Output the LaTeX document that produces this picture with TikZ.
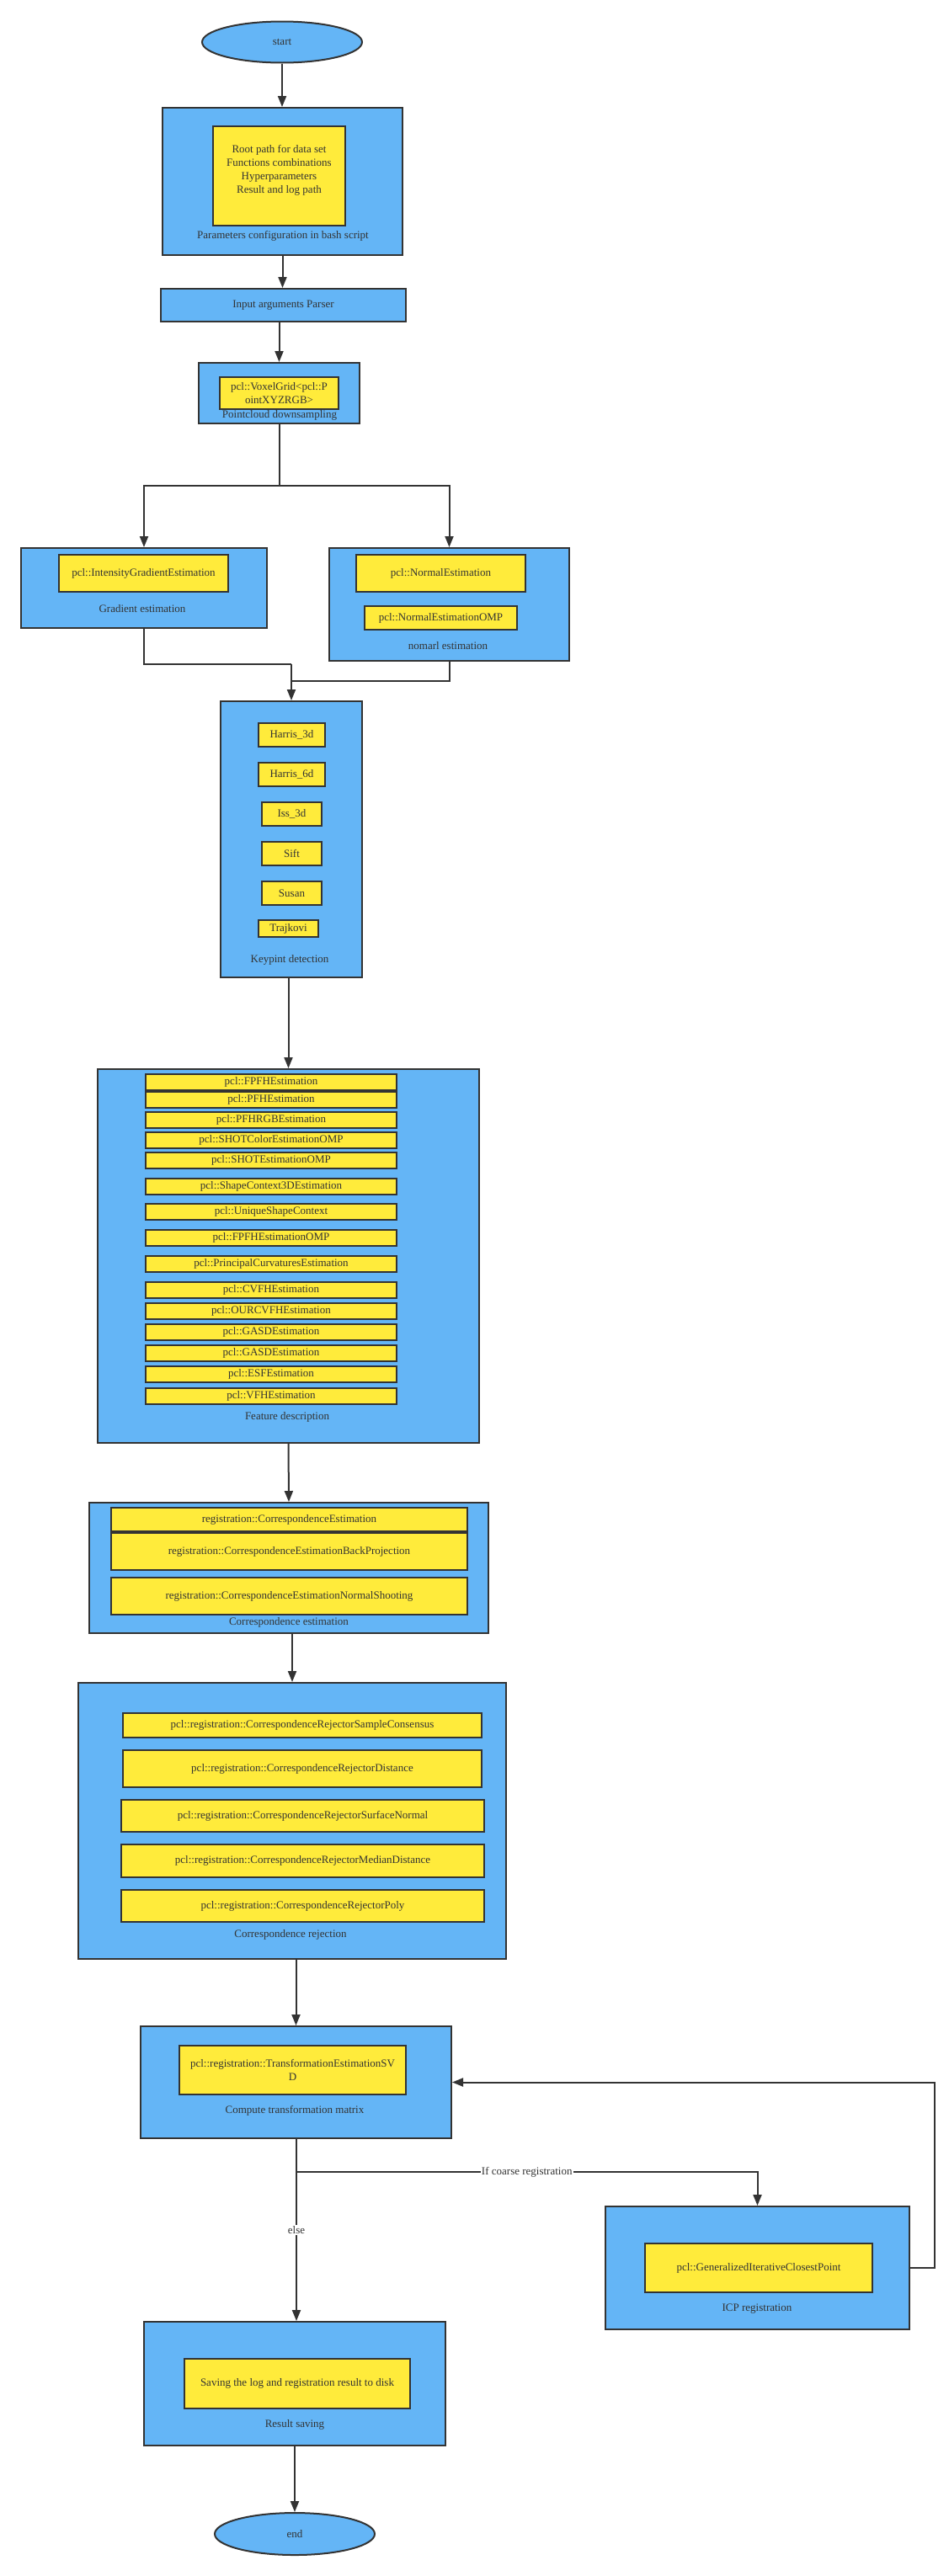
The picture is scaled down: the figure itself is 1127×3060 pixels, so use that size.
\documentclass[tikz,border=0pt]{standalone}
\usepackage{fontspec}
\setmainfont{Liberation Serif}
\usetikzlibrary{arrows.meta,shapes.geometric}
\definecolor{bl}{HTML}{64B5F6}
\definecolor{yl}{HTML}{FFEB3B}
\definecolor{dk}{HTML}{333333}
\begin{document}
\begin{tikzpicture}[x=1pt,y=-1pt,
 sz/.style 2 args={minimum width=#1pt,minimum height=#2pt},
 outer/.style={draw=dk,fill=bl,line width=2pt,inner sep=0pt},
 inner/.style={draw=dk,fill=yl,line width=2pt,inner sep=0pt,text=dk,align=center},
 txt/.style={text=dk,inner sep=0pt,align=center},
 term/.style={ellipse,draw=dk,fill=bl,line width=2pt,inner sep=0pt,text=dk},
 conn/.style={draw=dk,line width=2pt},
 arr/.style={conn,-{Triangle[length=13pt,width=10pt]}},
 elab/.style={fill=white,text=dk,inner sep=1pt},
 font=\fontsize{13}{16}\selectfont]
\useasboundingbox[fill=white] (0,0) rectangle (1127,3060);

% start
\node[term,sz={190}{49}] (start) at (335,50) {start};

% parameters
\node[outer,sz={285}{175}] (param) at (335.5,215.5) {};
\node[inner,sz={157}{118}] (paramin) at (331.5,209) {};
\node[txt] (paramtxt) at (331.5,202) {Root path for data set\\Functions combinations\\Hyperparameters\\Result and log path};
\node[txt] (paramlab) at (336,280) {Parameters configuration in bash script};

% parser
\node[outer,sz={291}{39},text=dk] (parser) at (336.5,362.5) {Input arguments Parser};

% voxel
\node[outer,sz={191}{72}] (voxel) at (331.5,467) {};
\node[inner,sz={141}{38}] (voxelin) at (331.5,467) {pcl::VoxelGrid<pcl::P\\ointXYZRGB>};
\node[txt] (voxellab) at (332,493) {Pointcloud downsampling};

% gradient
\node[outer,sz={292}{95}] (grad) at (171,698.5) {};
\node[inner,sz={201}{44}] (gradin) at (170.5,681) {pcl::IntensityGradientEstimation};
\node[txt] (gradlab) at (169,723) {Gradient estimation};

% normal
\node[outer,sz={285}{134}] (norm) at (533.5,718) {};
\node[inner,sz={201}{44}] (normin1) at (523.5,681) {pcl::NormalEstimation};
\node[inner,sz={181}{28}] (normin2) at (523.5,734) {pcl::NormalEstimationOMP};
\node[txt] (normlab) at (532,767) {nomarl estimation};

% keypoints
\node[outer,sz={168}{328}] (kp) at (346,997) {};
\node[inner,sz={79}{28}] (k1) at (346.5,873) {Harris\_3d};
\node[inner,sz={79}{28}] (k2) at (346.5,920) {Harris\_6d};
\node[inner,sz={71}{28}] (k3) at (346.5,967) {Iss\_3d};
\node[inner,sz={71}{28}] (k4) at (346.5,1014) {Sift};
\node[inner,sz={71}{28}] (k5) at (346.5,1061) {Susan};
\node[inner,sz={71}{20}] (k6) at (342.5,1103) {Trajkovi};
\node[txt] (kplab) at (344,1140) {Keypint detection};

% features
\node[outer,sz={453}{444}] (feat) at (342.5,1492) {};
\node[inner,sz={298}{19}] (f1) at (322,1285.5) {pcl::FPFHEstimation};
\node[inner,sz={298}{19}] (f2) at (322,1306.5) {pcl::PFHEstimation};
\node[inner,sz={298}{19}] (f3) at (322,1330.5) {pcl::PFHRGBEstimation};
\node[inner,sz={298}{19}] (f4) at (322,1354.5) {pcl::SHOTColorEstimationOMP};
\node[inner,sz={298}{19}] (f5) at (322,1378.5) {pcl::SHOTEstimationOMP};
\node[inner,sz={298}{19}] (f6) at (322,1409) {pcl::ShapeContext3DEstimation};
\node[inner,sz={298}{19}] (f7) at (322,1439.5) {pcl::UniqueShapeContext};
\node[inner,sz={298}{19}] (f8) at (322,1470.5) {pcl::FPFHEstimationOMP};
\node[inner,sz={298}{19}] (f9) at (322,1501) {pcl::PrincipalCurvaturesEstimation};
\node[inner,sz={298}{19}] (f10) at (322,1532) {pcl::CVFHEstimation};
\node[inner,sz={298}{19}] (f11) at (322,1557) {pcl::OURCVFHEstimation};
\node[inner,sz={298}{19}] (f12) at (322,1582) {pcl::GASDEstimation};
\node[inner,sz={298}{19}] (f13) at (322,1607.5) {pcl::GASDEstimation};
\node[inner,sz={298}{19}] (f14) at (322,1632.5) {pcl::ESFEstimation};
\node[inner,sz={298}{19}] (f15) at (322,1658) {pcl::VFHEstimation};
\node[txt] (featlab) at (341,1683) {Feature description};

% correspondence estimation
\node[outer,sz={474}{155}] (corr) at (343,1862.5) {};
\node[inner,sz={423}{28}] (c1) at (343.5,1805) {registration::CorrespondenceEstimation};
\node[inner,sz={423}{44}] (c2) at (343.5,1843) {registration::CorrespondenceEstimationBackProjection};
\node[inner,sz={423}{44}] (c3) at (343.5,1896) {registration::CorrespondenceEstimationNormalShooting};
\node[txt] (corrlab) at (343,1927) {Correspondence estimation};

% rejection
\node[outer,sz={508}{328}] (rej) at (347,2163) {};
\node[inner,sz={426}{29}] (r1) at (359,2049.5) {pcl::registration::CorrespondenceRejectorSampleConsensus};
\node[inner,sz={426}{44}] (r2) at (359,2101) {pcl::registration::CorrespondenceRejectorDistance};
\node[inner,sz={431}{38}] (r3) at (359.5,2157) {pcl::registration::CorrespondenceRejectorSurfaceNormal};
\node[inner,sz={431}{39}] (r4) at (359.5,2210.5) {pcl::registration::CorrespondenceRejectorMedianDistance};
\node[inner,sz={431}{38}] (r5) at (359.5,2264) {pcl::registration::CorrespondenceRejectorPoly};
\node[txt] (rejlab) at (345,2298) {Correspondence rejection};

% compute transformation
\node[outer,sz={369}{133}] (comp) at (351.5,2473.5) {};
\node[inner,sz={269}{58}] (compin) at (347.5,2459) {pcl::registration::TransformationEstimationSV\\D};
\node[txt] (complab) at (350,2507) {Compute transformation matrix};

% ICP
\node[outer,sz={361}{146}] (icp) at (899.5,2694) {};
\node[inner,sz={270}{58}] (icpin) at (901,2694) {pcl::GeneralizedIterativeClosestPoint};
\node[txt] (icplab) at (899,2743) {ICP registration};

% result
\node[outer,sz={358}{147}] (res) at (350,2831.5) {};
\node[inner,sz={268}{59}] (resin) at (353,2831.5) {Saving the log and registration result to disk};
\node[txt] (reslab) at (350,2880) {Result saving};

% end
\node[term,sz={190}{50}] (end) at (350,3010) {end};

% connectors
\draw[arr] (start) -- (param.north -| start.south);
\draw[arr] (param.south) -- (param.south |- parser.north);
\draw[arr] (voxel.north |- parser.south) -- (voxel.north);
\coordinate (split) at (331.5,577);
\coordinate (jg) at (346,789);
\coordinate (jn) at (346,809);
\draw[conn] (voxel.south) -- (split);
\draw[arr] (split) -| (grad.north);
\draw[arr] (split) -| (norm.north);
\draw[conn] (grad.south) |- (jg);
\draw[conn] (norm.south) |- (jn);
\draw[arr] (jg) -- (kp.north);
\draw[arr] (kp.south -| feat.north) -- (feat.north);
\draw[arr] (feat.south) -- (corr.north);
\draw[arr] (rej.north |- corr.south) -- (rej.north);
\draw[arr] (comp.north |- rej.south) -- (comp.north);
\coordinate (br) at (352,2580);
\coordinate (fb) at (1110,2694);
\draw[conn] (comp.south -| br) -- (br);
\draw[arr] (br) -| node[elab,pos=0.25] (ifl) {If coarse registration} (icp.north);
\draw[arr] (br) -- node[elab,pos=0.39] (elsel) {else} (br |- res.north);
\draw[arr] (icp.east) -- (fb) |- (comp.east);
\draw[arr] (res.south) -- (end);
\end{tikzpicture}
\end{document}
